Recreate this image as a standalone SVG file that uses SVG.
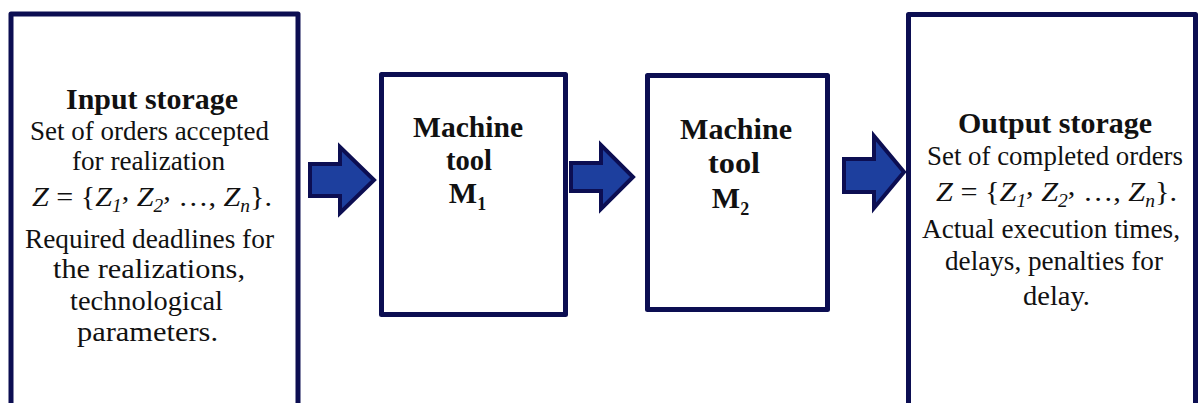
<svg xmlns="http://www.w3.org/2000/svg" width="1198" height="403" viewBox="0 0 1198 403">
  <style>
    .box { fill: #ffffff; stroke: #0c0e52; stroke-width: 5; stroke-linejoin: round; }
    .arrow { fill: #1d3f9e; stroke: #0c0e52; stroke-width: 4; stroke-linejoin: miter; }
    text { font-family: "Liberation Serif", "Times New Roman", Times, serif; fill: #111111; text-anchor: middle; }
    .title { font-size: 30px; font-weight: bold; }
    .body { font-size: 27px; }
    .math { font-size: 28px; font-style: italic; }
    .up { font-style: normal; }
    .sub { font-size: 18px; }
  </style>
  <rect width="1198" height="403" fill="#ffffff"/>

  <!-- flow arrows between stations -->
  <g id="connectors">
    <polygon class="arrow" points="310,164 340,164 340,147 374,180 340,213 340,196 310,196"/>
    <polygon class="arrow" points="571,163 601,163 601,145 633,177 601,209 601,191 571,191"/>
    <polygon class="arrow" points="844,159 874,159 874,136 904,172 874,208 874,192 844,192"/>
  </g>

  <!-- input storage -->
  <g id="input-storage">
    <rect class="box" x="11" y="14" width="287" height="420"/>
    <text class="title" x="152" y="109" textLength="172" lengthAdjust="spacingAndGlyphs">Input storage</text>
    <text class="body" x="149.5" y="140" textLength="239" lengthAdjust="spacingAndGlyphs">Set of orders accepted</text>
    <text class="body" x="148.5" y="170" textLength="153" lengthAdjust="spacingAndGlyphs">for realization</text>
    <text class="math" x="152" y="206" textLength="240" lengthAdjust="spacingAndGlyphs">Z <tspan class="up">= {</tspan>Z<tspan class="sub" dy="6">1</tspan><tspan class="up" dy="-12">,</tspan><tspan dy="6"> Z</tspan><tspan class="sub" dy="6">2</tspan><tspan class="up" dy="-12">,</tspan><tspan class="up" dy="6"> …, </tspan>Z<tspan class="sub" dy="6">n</tspan><tspan class="up" dy="-6">}.</tspan></text>
    <text class="body" x="149.5" y="248" textLength="249" lengthAdjust="spacingAndGlyphs">Required deadlines for</text>
    <text class="body" x="149" y="278" textLength="192" lengthAdjust="spacingAndGlyphs">the realizations,</text>
    <text class="body" x="146.5" y="310" textLength="153" lengthAdjust="spacingAndGlyphs">technological</text>
    <text class="body" x="147.5" y="341" textLength="141" lengthAdjust="spacingAndGlyphs">parameters.</text>
  </g>

  <!-- machine tool M1 -->
  <g id="machine-1">
    <rect class="box" x="381.5" y="74.5" width="184" height="240"/>
    <text class="title" x="468" y="137" textLength="110" lengthAdjust="spacingAndGlyphs">Machine</text>
    <text class="title" x="469" y="170" textLength="46" lengthAdjust="spacingAndGlyphs">tool</text>
    <text class="title" x="467.5" y="203">M<tspan class="sub" dy="7">1</tspan></text>
  </g>

  <!-- machine tool M2 -->
  <g id="machine-2">
    <rect class="box" x="647.5" y="75.5" width="180" height="234"/>
    <text class="title" x="736" y="139" textLength="112" lengthAdjust="spacingAndGlyphs">Machine</text>
    <text class="title" x="734" y="173" textLength="52" lengthAdjust="spacingAndGlyphs">tool</text>
    <text class="title" x="730.5" y="208">M<tspan class="sub" dy="7">2</tspan></text>
  </g>

  <!-- output storage -->
  <g id="output-storage">
    <rect class="box" x="908.5" y="14.5" width="287" height="420"/>
    <text class="title" x="1055" y="133" textLength="194" lengthAdjust="spacingAndGlyphs">Output storage</text>
    <text class="body" x="1055" y="165" textLength="256" lengthAdjust="spacingAndGlyphs">Set of completed orders</text>
    <text class="math" x="1056.5" y="201" textLength="241" lengthAdjust="spacingAndGlyphs">Z <tspan class="up">= {</tspan>Z<tspan class="sub" dy="6">1</tspan><tspan class="up" dy="-12">,</tspan><tspan dy="6"> Z</tspan><tspan class="sub" dy="6">2</tspan><tspan class="up" dy="-12">,</tspan><tspan class="up" dy="6"> …, </tspan>Z<tspan class="sub" dy="6">n</tspan><tspan class="up" dy="-6">}.</tspan></text>
    <text class="body" x="1051" y="238" textLength="258" lengthAdjust="spacingAndGlyphs">Actual execution times,</text>
    <text class="body" x="1054" y="270" textLength="218" lengthAdjust="spacingAndGlyphs">delays, penalties for</text>
    <text class="body" x="1056.5" y="305" textLength="67" lengthAdjust="spacingAndGlyphs">delay.</text>
  </g>
</svg>
